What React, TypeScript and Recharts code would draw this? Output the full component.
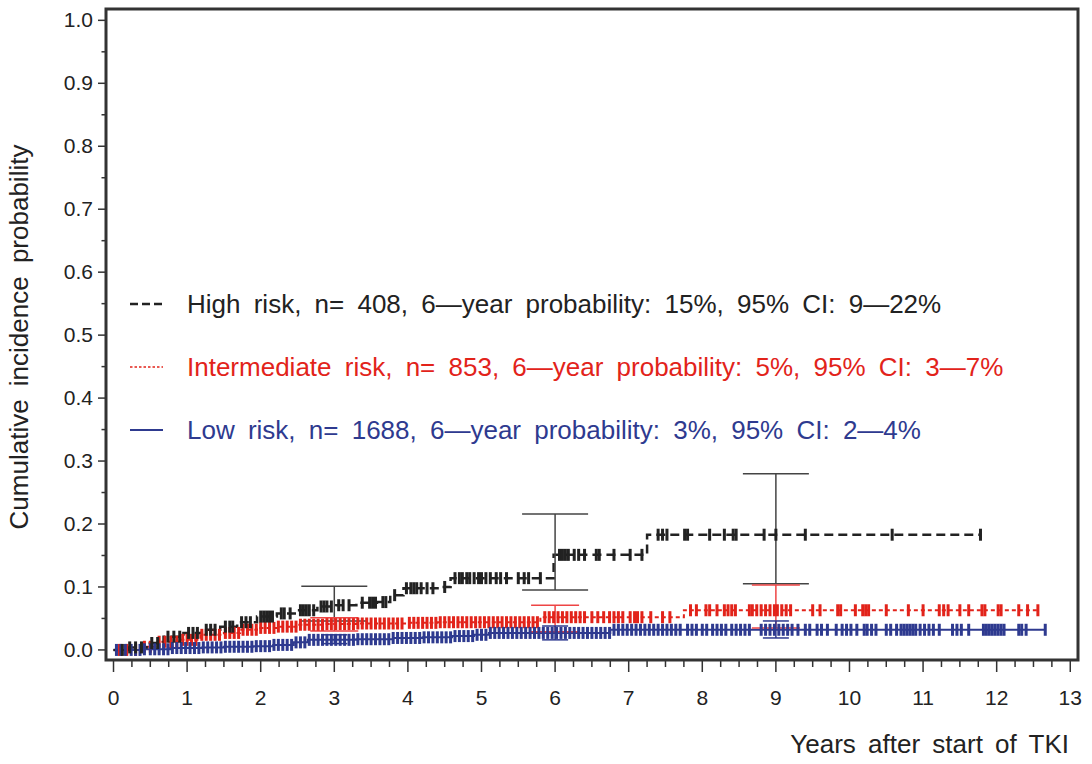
import React from "react";
import {
  ComposedChart,
  Line,
  Scatter,
  XAxis,
  YAxis,
  ErrorBar,
  ReferenceArea,
  Legend,
} from "recharts";

const FONT = '"Liberation Sans", Arial, Helvetica, sans-serif';
const BLACK = "#222222";
const RED = "#e2231a";
const BLUE = "#2e3a8f";

const xMajorTicks = [0, 1, 2, 3, 4, 5, 6, 7, 8, 9, 10, 11, 12, 13];
const yTicks = [
  0, 0.05, 0.1, 0.15, 0.2, 0.25, 0.3, 0.35, 0.4, 0.45, 0.5, 0.55, 0.6, 0.65, 0.7, 0.75, 0.8,
  0.85, 0.9, 0.95, 1.0,
];

// step curves: time of each step and the cumulative incidence after it
const highTimes = [0, 0.2, 0.45, 0.68, 0.95, 1.2, 1.45, 1.68, 1.95, 2.22, 2.5, 2.77, 3.02, 3.3, 3.58, 3.76, 3.94, 4.42, 4.58, 5.98, 7.25];
const highProb = [0, 0.004, 0.011, 0.021, 0.027, 0.032, 0.037, 0.044, 0.053, 0.058, 0.063, 0.069, 0.071, 0.075, 0.076, 0.087, 0.098, 0.1, 0.114, 0.151, 0.183];
const highEnd = 11.78;

const interTimes = [0, 0.37, 0.6, 0.91, 1.18, 1.5, 1.72, 1.95, 2.22, 2.5, 2.86, 3.3, 4.0, 4.4, 5.8, 7.75];
const interProb = [0, 0.005, 0.013, 0.016, 0.024, 0.027, 0.032, 0.035, 0.037, 0.04, 0.041, 0.042, 0.043, 0.044, 0.052, 0.063];
const interEnd = 12.56;

const lowTimes = [0, 0.4, 0.77, 1.2, 1.5, 1.9, 2.17, 2.45, 2.64, 3.3, 3.8, 4.2, 4.6, 4.9, 5.1, 6.75];
const lowProb = [0, 0.001, 0.003, 0.004, 0.005, 0.006, 0.008, 0.012, 0.016, 0.017, 0.019, 0.02, 0.022, 0.024, 0.027, 0.032];
const lowEnd = 12.66;

// censoring times (tick marks)
const highCensor = [
  0.12, 0.22, 0.3, 0.38, 0.52, 0.6, 0.74, 0.82, 0.9, 1.02, 1.08, 1.14, 1.26, 1.32, 1.38, 1.52, 1.58,
  1.62, 1.74, 1.8, 1.86, 2.0, 2.04, 2.08, 2.12, 2.16, 2.28, 2.32, 2.4, 2.54, 2.58, 2.62, 2.66, 2.72,
  2.82, 2.86, 2.9, 2.96, 3.06, 3.12, 3.2, 3.38, 3.48, 3.52, 3.56, 3.66, 3.7, 3.82, 3.98, 4.04, 4.08,
  4.12, 4.18, 4.26, 4.34, 4.5, 4.64, 4.7, 4.74, 4.8, 4.84, 4.9, 4.96, 5.0, 5.06, 5.12, 5.2, 5.26,
  5.34, 5.5, 5.58, 5.64, 5.8, 6.06, 6.1, 6.14, 6.18, 6.26, 6.32, 6.4, 6.56, 6.6, 6.8, 7.02, 7.18,
  7.4, 7.46, 7.52, 7.76, 7.8, 8.1, 8.3, 8.42, 8.46, 8.84, 9.0, 9.4, 10.58, 11.78,
];
const interCensor = [
  0.08, 0.18, 0.3, 0.42, 0.5, 0.62, 0.7, 0.78, 0.86, 0.94, 1.0, 1.06, 1.12, 1.2, 1.26, 1.32, 1.38,
  1.44, 1.52, 1.58, 1.64, 1.7, 1.76, 1.82, 1.88, 1.94, 2.0, 2.06, 2.12, 2.18, 2.24, 2.3, 2.36, 2.42,
  2.48, 2.54, 2.6, 2.66, 2.72, 2.78, 2.84, 2.9, 2.96, 3.02, 3.08, 3.14, 3.2, 3.26, 3.32, 3.38, 3.44,
  3.5, 3.56, 3.62, 3.68, 3.74, 3.8, 3.86, 3.92, 4.02, 4.08, 4.14, 4.2, 4.26, 4.32, 4.38, 4.44, 4.5,
  4.56, 4.62, 4.68, 4.74, 4.8, 4.86, 4.92, 4.98, 5.04, 5.1, 5.16, 5.22, 5.28, 5.34, 5.4, 5.46, 5.52,
  5.58, 5.64, 5.7, 5.76, 5.86, 5.92, 5.98, 6.04, 6.1, 6.16, 6.22, 6.28, 6.34, 6.4, 6.5, 6.58, 6.66,
  6.74, 6.8, 6.86, 6.92, 7.02, 7.08, 7.12, 7.18, 7.3, 7.46, 7.56, 7.84, 7.92, 8.05, 8.1, 8.2, 8.3,
  8.35, 8.4, 8.45, 8.64, 8.68, 8.74, 8.8, 8.86, 8.92, 8.98, 9.02, 9.08, 9.14, 9.2, 9.5, 9.6, 9.84,
  9.88, 10.08, 10.18, 10.22, 10.26, 10.5, 10.8, 11.0, 11.22, 11.28, 11.34, 11.5, 11.62, 11.8, 11.84,
  12.02, 12.06, 12.3, 12.42, 12.56,
];
const lowCensor = [
  0.04, 0.1, 0.16, 0.24, 0.3, 0.36, 0.42, 0.5, 0.56, 0.62, 0.68, 0.74, 0.8, 0.86, 0.92, 0.98, 1.04,
  1.1, 1.16, 1.22, 1.28, 1.34, 1.4, 1.46, 1.52, 1.58, 1.64, 1.7, 1.76, 1.82, 1.88, 1.94, 2.0, 2.06,
  2.12, 2.18, 2.24, 2.3, 2.36, 2.42, 2.48, 2.54, 2.6, 2.66, 2.72, 2.78, 2.84, 2.9, 2.96, 3.02, 3.08,
  3.14, 3.2, 3.26, 3.32, 3.38, 3.44, 3.5, 3.56, 3.62, 3.68, 3.74, 3.8, 3.86, 3.92, 3.98, 4.04, 4.1,
  4.16, 4.22, 4.28, 4.34, 4.4, 4.46, 4.52, 4.58, 4.64, 4.7, 4.76, 4.82, 4.88, 4.94, 5.0, 5.06, 5.12,
  5.18, 5.24, 5.3, 5.36, 5.42, 5.48, 5.54, 5.6, 5.66, 5.72, 5.78, 5.84, 5.9, 5.96, 6.02, 6.08, 6.14,
  6.2, 6.26, 6.32, 6.38, 6.44, 6.5, 6.56, 6.62, 6.68, 6.74, 6.8, 6.86, 6.92, 6.98, 7.04, 7.1, 7.16,
  7.22, 7.28, 7.34, 7.4, 7.46, 7.52, 7.58, 7.64, 7.7, 7.8, 7.86, 7.92, 8.0, 8.06, 8.14, 8.2, 8.26,
  8.32, 8.4, 8.46, 8.52, 8.58, 8.64, 8.8, 8.86, 8.92, 8.98, 9.04, 9.1, 9.16, 9.22, 9.3, 9.4, 9.46,
  9.56, 9.62, 9.7, 9.82, 9.9, 9.96, 10.02, 10.1, 10.2, 10.24, 10.3, 10.36, 10.5, 10.56, 10.64, 10.7,
  10.74, 10.78, 10.82, 10.86, 10.9, 10.96, 11.02, 11.08, 11.14, 11.22, 11.4, 11.46, 11.52, 11.62,
  11.82, 11.86, 11.9, 11.94, 11.98, 12.02, 12.06, 12.1, 12.3, 12.34, 12.4, 12.66,
];

// 95% CI at 3, 6 and 9 years
const ciTimes = [3, 6, 9];
const highCiLow = [0.046, 0.095, 0.105];
const highCiHigh = [0.101, 0.216, 0.28];
const interCiLow = [0.03, 0.029, 0.035];
const interCiHigh = [0.051, 0.071, 0.103];
const lowCiLow = [0.01, 0.016, 0.019];
const lowCiHigh = [0.024, 0.038, 0.046];

const legendNames = ["High risk", "Intermediate risk", "Low risk"];
const legendN = [408, 853, 1688];
const legendProb = ["15%", "5%", "3%"];
const legendCi = ["9\u201422%", "3\u20147%", "2\u20144%"];

const stepAt = (times: number[], probs: number[], t: number) => {
  let v = probs[0];
  times.forEach((s, i) => {
    if (s <= t) v = probs[i];
  });
  return v;
};

const buildCurve = (times: number[], probs: number[], end: number) => [
  ...times.map((t, i) => ({ x: t, y: probs[i] })),
  { x: end, y: probs[probs.length - 1] },
];

const buildCensor = (censor: number[], times: number[], probs: number[]) =>
  censor.map((t) => ({ x: t, y: stepAt(times, probs, t) }));

const buildCi = (times: number[], probs: number[], lo: number[], hi: number[]) =>
  ciTimes.map((t, i) => {
    const y = stepAt(times, probs, t);
    return { x: t, y, err: [y - lo[i], hi[i] - y] };
  });

const highCurve = buildCurve(highTimes, highProb, highEnd);
const interCurve = buildCurve(interTimes, interProb, interEnd);
const lowCurve = buildCurve(lowTimes, lowProb, lowEnd);

const highMarks = buildCensor(highCensor, highTimes, highProb);
const interMarks = buildCensor(interCensor, interTimes, interProb);
const lowMarks = buildCensor(lowCensor, lowTimes, lowProb);

const highCi = buildCi(highTimes, highProb, highCiLow, highCiHigh);
const interCi = buildCi(interTimes, interProb, interCiLow, interCiHigh);
const lowCi = buildCi(lowTimes, lowProb, lowCiLow, lowCiHigh);

const xTicks = xMajorTicks.flatMap((t) => (t < 13 ? [t, t + 0.25, t + 0.5, t + 0.75] : [t]));

const X_DOMAIN = [-0.102, 13.105];
const Y_DOMAIN = [-0.016, 1.018];

const censorMark = (color: string) => (props: any) => {
  const { cx, cy } = props;
  if (cx == null || cy == null) return <g />;
  return <rect x={cx - 1.5} y={cy - 6} width={3} height={12} fill={color} />;
};

const noShape = () => <g />;

function XTick(props: any) {
  const { x, y, payload } = props;
  const v = payload.value;
  const major = Math.abs(v - Math.round(v)) < 1e-6;
  return (
    <g>
      <line x1={x} x2={x} y1={y} y2={y + (major ? 12 : 7)} stroke="#333" strokeWidth={1.5} />
      {major && (
        <text x={x} y={y + 45} textAnchor="middle" fontSize={21} fontFamily={FONT} fill={BLACK}>
          {Math.round(v)}
        </text>
      )}
    </g>
  );
}

function YTick(props: any) {
  const { x, y, payload } = props;
  const v = payload.value;
  const major = Math.round(v * 100) % 10 === 0;
  return (
    <g>
      <line x1={x - (major ? 8 : 4.5)} x2={x} y1={y} y2={y} stroke="#333" strokeWidth={1.5} />
      {major && (
        <text x={x - 13} y={y} dy={7} textAnchor="end" fontSize={21} fontFamily={FONT} fill={BLACK}>
          {v.toFixed(1)}
        </text>
      )}
    </g>
  );
}

const YLabel = () => (
  <text
    x={28}
    y={337}
    transform="rotate(-90 28 337)"
    textAnchor="middle"
    fontSize={26}
    fontFamily={FONT}
    fill={BLACK}
    style={{ wordSpacing: 6 }}
  >
    Cumulative incidence probability
  </text>
);

const XLabel = () => (
  <text x={1069} y={753} textAnchor="end" fontSize={26} fontFamily={FONT} fill={BLACK} style={{ wordSpacing: 5 }}>
    Years after start of TKI
  </text>
);

const legendRows = [
  { color: BLACK, dash: "8 4", width: 2.5 },
  { color: RED, dash: "2.5 2", width: 1.5 },
  { color: BLUE, dash: undefined, width: 2 },
];

function LegendBox() {
  return (
    <div style={{ position: "relative", width: 960, height: 190, fontFamily: FONT, fontSize: 26 }}>
      {legendRows.map((row, i) => (
        <div
          key={i}
          style={{
            position: "absolute",
            left: 0,
            top: i * 63,
            height: 30,
            display: "flex",
            alignItems: "center",
            whiteSpace: "nowrap",
            color: row.color,
          }}
        >
          <svg width={50} height={10}>
            <line
              x1={5}
              x2={38}
              y1={5}
              y2={5}
              stroke={row.color}
              strokeWidth={row.width}
              strokeDasharray={row.dash}
            />
          </svg>
          <span style={{ marginLeft: 12, wordSpacing: 6 }}>
            {`${legendNames[i]}, n= ${legendN[i]}, 6\u2014year probability: ${legendProb[i]}, 95% CI: ${legendCi[i]}`}
          </span>
        </div>
      ))}
    </div>
  );
}

export default function App() {
  return (
    <div style={{ position: "absolute", left: 0, top: 0, background: "#fff" }}>
      <ComposedChart width={1092} height={764} margin={{ top: 9, right: 14, bottom: 0, left: 0 }}>
        <XAxis
          dataKey="x"
          type="number"
          domain={X_DOMAIN}
          allowDataOverflow
          ticks={xTicks}
          interval={0}
          tickSize={0}
          tickMargin={0}
          axisLine={false}
          tick={<XTick />}
          height={104}
          label={<XLabel />}
        />
        <YAxis
          dataKey="y"
          type="number"
          domain={Y_DOMAIN}
          allowDataOverflow
          ticks={yTicks}
          interval={0}
          tickSize={0}
          tickMargin={0}
          axisLine={false}
          tick={<YTick />}
          width={106}
          label={<YLabel />}
        />
        <ReferenceArea
          x1={X_DOMAIN[0]}
          x2={X_DOMAIN[1]}
          y1={Y_DOMAIN[0]}
          y2={Y_DOMAIN[1]}
          fill="none"
          stroke="#333"
          strokeWidth={3}
        />
        <Legend
          layout="horizontal"
          verticalAlign="middle"
          align="center"
          wrapperStyle={{ left: 125, top: 289, width: 960 }}
          content={<LegendBox />}
        />

        <Line data={interCurve} dataKey="y" type="stepAfter" stroke={RED} strokeWidth={2} strokeDasharray="4 3" dot={false} isAnimationActive={false} />
        <Scatter data={interMarks} shape={censorMark(RED)} isAnimationActive={false} />
        <Line data={lowCurve} dataKey="y" type="stepAfter" stroke={BLUE} strokeWidth={2} dot={false} isAnimationActive={false} />
        <Scatter data={lowMarks} shape={censorMark(BLUE)} isAnimationActive={false} />
        <Line data={highCurve} dataKey="y" type="stepAfter" stroke={BLACK} strokeWidth={2.5} strokeDasharray="9 5" dot={false} isAnimationActive={false} />
        <Scatter data={highMarks} shape={censorMark(BLACK)} isAnimationActive={false} />

        <Scatter data={highCi} shape={noShape} isAnimationActive={false}>
          <ErrorBar dataKey="err" direction="y" width={33} stroke="#444" strokeWidth={1.5} isAnimationActive={false} />
        </Scatter>
        <Scatter data={interCi} shape={noShape} isAnimationActive={false}>
          <ErrorBar dataKey="err" direction="y" width={24} stroke="#ee4444" strokeWidth={1.5} isAnimationActive={false} />
        </Scatter>
        <Scatter data={lowCi} shape={noShape} isAnimationActive={false}>
          <ErrorBar dataKey="err" direction="y" width={13} stroke={BLUE} strokeWidth={1.5} isAnimationActive={false} />
        </Scatter>
      </ComposedChart>
    </div>
  );
}
